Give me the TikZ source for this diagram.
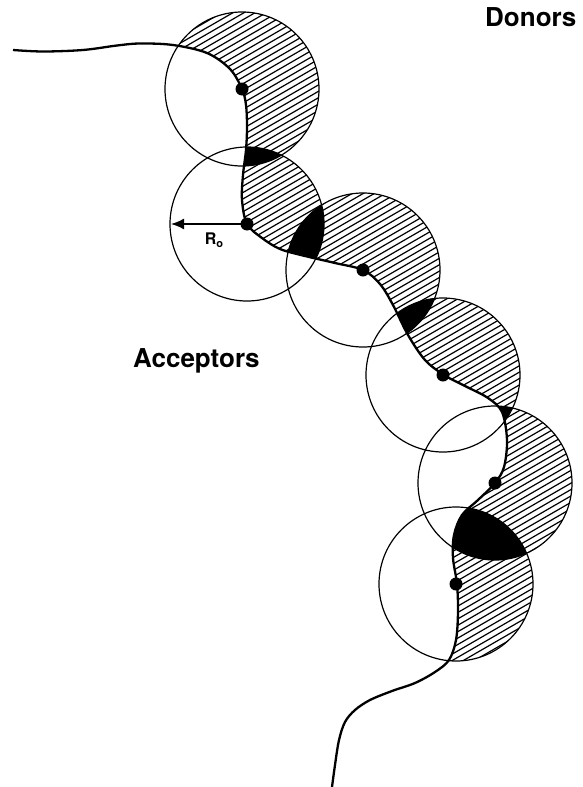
\documentclass[tikz,border=0pt]{standalone}
\usepackage{fontspec}
\setmainfont{TeX Gyre Heros}
\usetikzlibrary{arrows.meta}
\newcommand\ifacepath{plot[smooth, tension=0.55] coordinates {(13,50) (43,51.5) (83,50) (117,45.5) (140,43.5) (173,45) (207,53) (230,69) (242,89) (246,105) (247,127) (246,150) (243,175) (242,200) (247,224) (262,238) (280,249) (305,256) (335,263) (363,270) (380,284) (393,305) (408,335) (425,360) (444,375) (465,386) (488,398) (502,412) (507,440) (504,467) (495,483) (478,500) (462,515) (454,535) (453,558) (457,584) (458,612) (456,640) (449,660) (435,672) (415,683) (392,691) (370,700) (355,710) (345,722) (339,740) (335,765) (332,787)}}
\newcommand\donorclip{\clip \ifacepath -- (595,790) -- (595,-5) -- (13,-5) -- cycle;}
\begin{document}
\begin{tikzpicture}[x=1pt,y=-1pt,
  circ/.style={line width=1.2pt},
  iface/.style={line width=2.3pt, line join=round},
  hatchline/.style={line width=1.2pt},
  dotmark/.style={fill=black},
  ptr/.style={line width=1.8pt, -{Latex[length=13pt,width=11pt]}},
  lbl/.style={font=\bfseries\fontsize{26}{30}\selectfont, inner sep=0pt}]
\useasboundingbox (0,0) rectangle (583,787);
\coordinate (d1) at (242,89);
\coordinate (d2) at (247,224);
\coordinate (d3) at (363,270);
\coordinate (d4) at (443,375);
\coordinate (d5) at (495,483);
\coordinate (d6) at (456,584);
\coordinate (r2) at (171,224);
% hatching of donor side of every circle
\begin{scope}
  \donorclip
  \clip (d1) circle (77pt) (d2) circle (77pt) (d3) circle (77pt)
        (d4) circle (77pt) (d5) circle (77pt) (d6) circle (77pt);
  \foreach \c in {0,6.4,...,1140}
    \draw[hatchline] (0,\c) -- (583,\c-336.6);
\end{scope}
% black overlaps of neighbouring circles on the donor side
\begin{scope}
  \donorclip
  \foreach \a/\b in {d1/d2,d2/d3,d3/d4,d4/d5,d5/d6}{
    \begin{scope}
      \clip (\a) circle (77pt);
      \fill (\b) circle (77pt);
    \end{scope}
  }
\end{scope}
% circle outlines
\foreach \p in {d1,d2,d3,d4,d5,d6}
  \draw[circ] (\p) circle (77pt);
% interface
\draw[iface] \ifacepath;
% donor sites
\foreach \p in {d1,d2,d3,d4,d5,d6}
  \fill[dotmark] (\p) circle (6.5pt);
% radius arrow
\draw[ptr] (d2) -- (r2);
\node[font=\bfseries\fontsize{16}{18}\selectfont, inner sep=0pt] (ro) at (214,240)
  {R\raisebox{-3pt}{\fontsize{11}{12}\selectfont o}};
\node[lbl, anchor=base west] (don) at (485,27) {Donors};
\node[lbl, anchor=base west] (acc) at (133,367) {Acceptors};
\end{tikzpicture}
\end{document}
